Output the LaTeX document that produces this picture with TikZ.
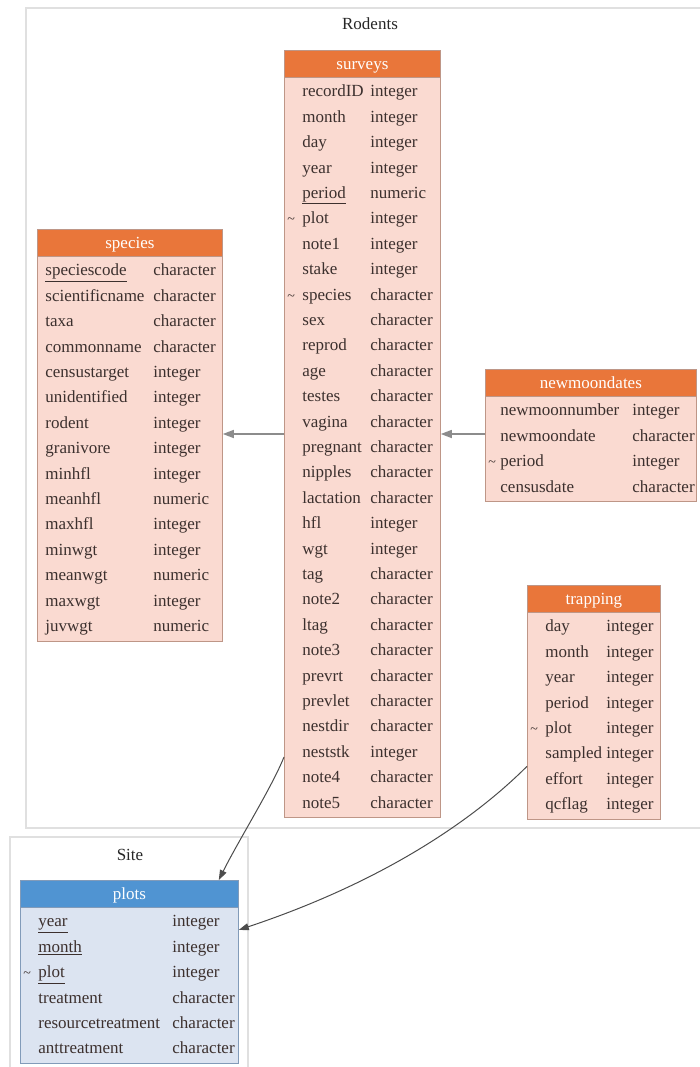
\documentclass[tikz,border=0pt]{standalone}
\usepackage{fontspec}
\setmainfont{Liberation Serif}
\usepackage{array}
\usepackage{tikz}
\usetikzlibrary{
  shapes.multipart,
  arrows.meta
}
\definecolor{hdrorange}{RGB}{233,118,58}
\definecolor{rowpink}{RGB}{250,218,209}
\definecolor{rowline}{RGB}{190,150,135}
\definecolor{hdrblue}{RGB}{80,148,210}
\definecolor{rowblue}{RGB}{220,228,241}
\definecolor{blueline}{RGB}{130,155,185}
\definecolor{rowtext}{RGB}{60,48,46}
\definecolor{clusterline}{RGB}{224,224,224}
\newcommand{\tildemark}{\hspace*{3pt}{\fontsize{14}{25.4}\selectfont\textasciitilde}}

\begin{document}
\begin{tikzpicture}[x=1pt,y=-1pt,
  tbl/.style={rectangle split, rectangle split parts=2,
    rectangle split part fill={hdrorange,rowpink}, draw=rowline, line width=0.8pt,
    inner xsep=0pt, inner ysep=1.5pt, anchor=north west, text=rowtext,
    font=\fontsize{17}{25.4}\selectfont},
  sitetbl/.style={tbl, rectangle split part fill={hdrblue,rowblue}, draw=blueline},
  cluster/.style={draw=clusterline, line width=1.2pt},
  lbl/.style={text=black!85, font=\fontsize{17}{20}\selectfont},
  ref/.style={-{Triangle[length=11pt,width=8pt]}, line width=1.5pt, draw=black!45},
  siteref/.style={-{Triangle[length=10pt,width=7pt]}, line width=1pt, draw=black!70}
]
\useasboundingbox (0,0) rectangle (699,1067);
\draw[cluster] (26,8) rectangle (712,828);
\node[lbl] (rodents-lbl) at (370,24) {Rodents};
\draw[cluster] (10,837) rectangle (248,1082);
\node[lbl] (site-lbl) at (130,855) {Site};

\node[tbl] (surveys) at (284,50) {\textcolor{white}{surveys}\rule[-6pt]{0pt}{23pt}
\nodepart{two}\begin{tabular}{@{}p{18pt}@{}p{68pt}@{}p{70pt}@{}}
& recordID & integer\\
& month & integer\\
& day & integer\\
& year & integer\\
& \underline{period} & numeric\\
\tildemark & plot & integer\\
& note1 & integer\\
& stake & integer\\
\tildemark & species & character\\
& sex & character\\
& reprod & character\\
& age & character\\
& testes & character\\
& vagina & character\\
& pregnant & character\\
& nipples & character\\
& lactation & character\\
& hfl & integer\\
& wgt & integer\\
& tag & character\\
& note2 & character\\
& ltag & character\\
& note3 & character\\
& prevrt & character\\
& prevlet & character\\
& nestdir & character\\
& neststk & integer\\
& note4 & character\\
& note5 & character
\end{tabular}};

\node[tbl] (species) at (37,229) {\textcolor{white}{species}\rule[-6pt]{0pt}{23pt}
\nodepart{two}\begin{tabular}{@{}p{8pt}@{}p{108pt}@{}p{69pt}@{}}
& \underline{speciescode} & character\\
& scientificname & character\\
& taxa & character\\
& commonname & character\\
& censustarget & integer\\
& unidentified & integer\\
& rodent & integer\\
& granivore & integer\\
& minhfl & integer\\
& meanhfl & numeric\\
& maxhfl & integer\\
& minwgt & integer\\
& meanwgt & numeric\\
& maxwgt & integer\\
& juvwgt & numeric
\end{tabular}};

\node[tbl] (newmoondates) at (485,369) {\textcolor{white}{newmoondates}\rule[-6pt]{0pt}{23pt}
\nodepart{two}\begin{tabular}{@{}p{15pt}@{}p{132pt}@{}p{64pt}@{}}
& newmoonnumber & integer\\
& newmoondate & character\\
\tildemark & period & integer\\
& censusdate & character
\end{tabular}};

\node[tbl] (trapping) at (527,585) {\textcolor{white}{trapping}\rule[-6pt]{0pt}{23pt}
\nodepart{two}\begin{tabular}{@{}p{18pt}@{}p{61pt}@{}p{54pt}@{}}
& day & integer\\
& month & integer\\
& year & integer\\
& period & integer\\
\tildemark & plot & integer\\
& sampled & integer\\
& effort & integer\\
& qcflag & integer
\end{tabular}};

\node[sitetbl] (plots) at (20,880) {\textcolor{white}{plots}\rule[-6pt]{0pt}{23pt}
\nodepart{two}\begin{tabular}{@{}p{18pt}@{}p{134pt}@{}p{66pt}@{}}
& \underline{year} & integer\\
& \underline{month} & integer\\
\tildemark & \underline{plot} & integer\\
& treatment & character\\
& resourcetreatment & character\\
& anttreatment & character
\end{tabular}};

\draw[ref] (surveys.west) -- (surveys.west -| species.east);
\draw[ref] (newmoondates.west |- surveys.east) -- (surveys.east);
\draw[siteref] ([yshift=-323pt]surveys.west) .. controls +(-12,30) and +(20,-40) .. ([xshift=-20pt]plots.north east);
\draw[siteref] ([yshift=-64pt]trapping.west) .. controls +(-50,50) and +(150,-50) .. ([yshift=42pt]plots.east);
\end{tikzpicture}
\end{document}
